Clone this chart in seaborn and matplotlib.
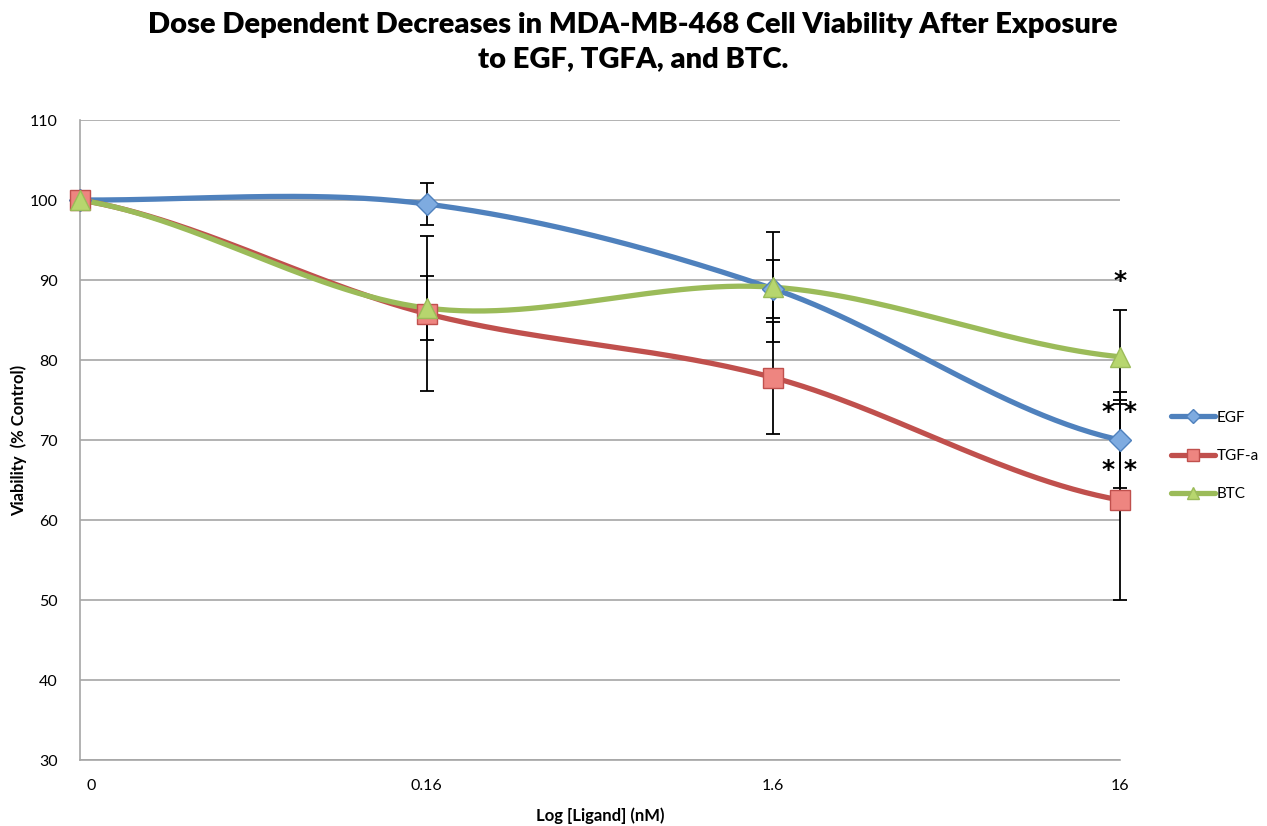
import numpy as np
import pandas as pd
import matplotlib
matplotlib.use("Agg")
import matplotlib.pyplot as plt
import matplotlib.transforms as mtransforms
from matplotlib.lines import Line2D
import seaborn as sns

# ---- data ----
doses = ["0", "0.16", "1.6", "16"]
series_names = ["EGF", "TGF-a", "BTC"]
egf = [100.0, 99.5, 88.9, 70.0]
tgfa = [100.0, 85.8, 77.8, 62.5]
btc = [100.0, 86.5, 89.1, 80.4]
egf_err = [0.0, 2.6, 3.6, 6.0]
tgfa_err = [0.0, 9.7, 7.0, 12.5]
btc_err = [0.0, 4.0, 6.9, 5.9]
yticks = [30, 40, 50, 60, 70, 80, 90, 100, 110]

values = {"EGF": egf, "TGF-a": tgfa, "BTC": btc}
errors = {"EGF": egf_err, "TGF-a": tgfa_err, "BTC": btc_err}
line_colors = {"EGF": "#4F81BD", "TGF-a": "#C0504D", "BTC": "#9BBB59"}
face_colors = {"EGF": "#7EABE0", "TGF-a": "#EE8580", "BTC": "#B7D66E"}
markers = {"EGF": "D", "TGF-a": "s", "BTC": "^"}
msizes = {"EGF": 11, "TGF-a": 14, "BTC": 14}


def smooth(yv, n=60):
    """Catmull-Rom style smoothing for drawing the curve (like Excel's smoothed line)."""
    y = np.asarray(yv, float)
    p = np.concatenate([[y[0]], y, [y[-1]]])
    xs, ys = [], []
    for i in range(len(y) - 1):
        p0, p1, p2, p3 = p[i], p[i + 1], p[i + 2], p[i + 3]
        m1 = (p2 - p0) / 2.0
        m2 = (p3 - p1) / 2.0
        t = np.linspace(0, 1, n, endpoint=(i == len(y) - 2))
        h00 = 2 * t**3 - 3 * t**2 + 1
        h10 = t**3 - 2 * t**2 + t
        h01 = -2 * t**3 + 3 * t**2
        h11 = t**3 - t**2
        xs.append(i + t)
        ys.append(h00 * p1 + h10 * m1 + h01 * p2 + h11 * m2)
    return np.concatenate(xs), np.concatenate(ys)


sns.set_theme(style="white")
plt.rcParams["font.family"] = ["Lato", "DejaVu Sans"]
plt.rcParams["text.color"] = "black"
plt.rcParams["axes.labelcolor"] = "black"

fig = plt.figure(figsize=(12.67, 8.26), dpi=100)
ax = fig.add_axes([80 / 1267, 1 - 760 / 826, 1040 / 1267, 640 / 826])

# smoothed curves
rows = []
for name in series_names:
    xs, ys = smooth(values[name])
    rows.append(pd.DataFrame({"x": xs, "y": ys, "series": name}))
curves = pd.concat(rows, ignore_index=True)

# error bars (behind lines)
xpos = np.arange(len(doses))
for name in series_names:
    v = np.array(values[name])
    e = np.array(errors[name])
    mask = e > 0
    ax.errorbar(xpos[mask], v[mask], yerr=e[mask], fmt="none", ecolor="black",
                elinewidth=1.3, capsize=5, capthick=1.3, zorder=2, clip_on=False)

sns.lineplot(data=curves, x="x", y="y", hue="series", palette=line_colors,
             hue_order=series_names, sort=False, linewidth=3.8, legend=False,
             ax=ax, zorder=3)
for ln in ax.get_lines():
    ln.set_solid_capstyle("round")

for name in series_names:
    ax.plot(xpos, values[name], linestyle="none", marker=markers[name],
            markersize=msizes[name], markerfacecolor=face_colors[name],
            markeredgecolor=line_colors[name], markeredgewidth=1.0,
            zorder=4, clip_on=False)

# significance stars
star_kw = dict(ha="center", va="center", fontsize=18, zorder=5,
               family="DejaVu Sans", fontweight="bold", color="black")
ax.text(3, 89.9, "*", **star_kw)
ax.text(3, 73.5, "* *", **star_kw)
ax.text(3, 66.2, "* *", **star_kw)

ax.set_xlim(0, 3)
ax.set_ylim(30, 110)
ax.set_yticks(yticks)
ax.set_xticks(xpos)
ax.set_xticklabels(doses)
ax.yaxis.grid(True, color="#A6A6A6", linewidth=1.2)
ax.xaxis.grid(False)
for side in ["right", "top"]:
    ax.spines[side].set_visible(False)
for side in ["left", "bottom"]:
    ax.spines[side].set_color("#A6A6A6")
    ax.spines[side].set_linewidth(1.2)
ax.tick_params(axis="both", length=0, labelsize=11.5, colors="black")
ax.tick_params(axis="y", pad=16)
ax.tick_params(axis="x", pad=14)
lbl0 = ax.get_xticklabels()[0]
lbl0.set_transform(lbl0.get_transform() +
                   mtransforms.ScaledTranslation(11 / 100, 0, fig.dpi_scale_trans))

ax.set_xlabel("Log [Ligand] (nM)", fontsize=12, fontweight="bold", labelpad=10)
ax.set_ylabel("Viability  (% Control)", fontsize=12, fontweight="bold", labelpad=2)

fig.suptitle("Dose Dependent Decreases in MDA-MB-468 Cell Viability After Exposure\n"
             "to EGF, TGFA, and BTC.", x=633 / 1267, y=1 - 12 / 826, va="top",
             fontsize=21, fontweight="heavy", linespacing=1.4, color="black")

handles = [Line2D([0], [0], color=line_colors[n], linewidth=3.8,
                  marker=markers[n], markersize=msizes[n] * 0.65,
                  markerfacecolor=face_colors[n], markeredgecolor=line_colors[n],
                  solid_capstyle="round")
           for n in series_names]
fig.legend(handles, series_names, loc="center left",
           bbox_to_anchor=(1163 / 1267, 1 - 456 / 826), frameon=False,
           fontsize=11, handlelength=2.9, handletextpad=0.1, labelspacing=1.6,
           borderpad=0, labelcolor="black")

fig.savefig("out.png", dpi=100)
